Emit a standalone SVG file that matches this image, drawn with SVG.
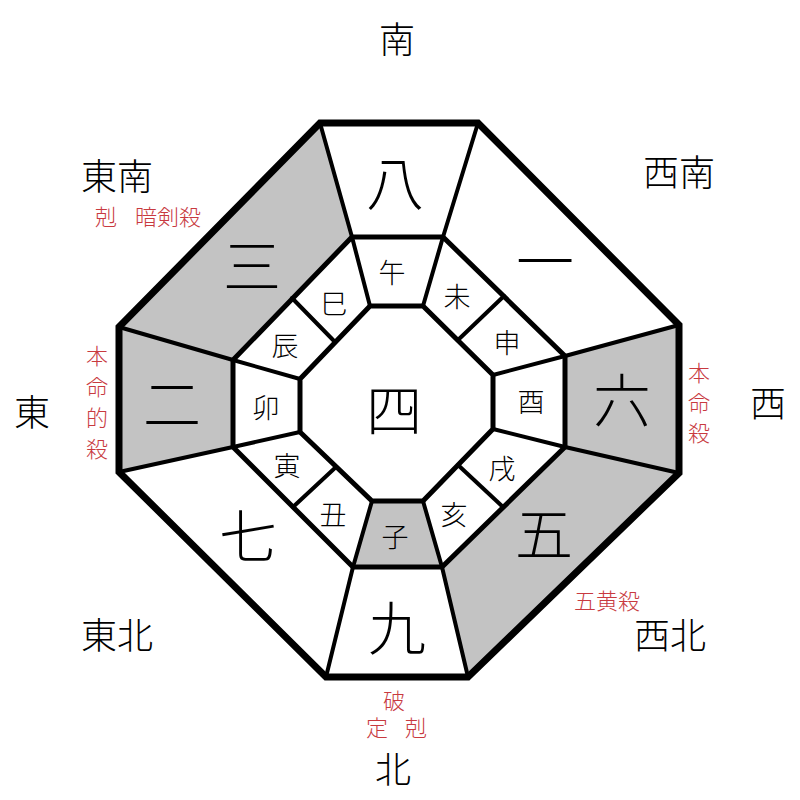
<svg xmlns="http://www.w3.org/2000/svg" width="800" height="800" viewBox="0 0 800 800">
<style>
text{font-family:"Noto Sans CJK JP","Noto Sans CJK SC",sans-serif;text-anchor:middle;dominant-baseline:central;font-weight:300}
.dir{font-size:36px;fill:#000}
.num{font-size:58px;fill:#000}
.mid{font-size:56px;fill:#000}
.zod{font-size:27px;fill:#000}
.red{font-size:22px;fill:#c83a3f}
.gray{fill:#c3c3c3;stroke:none}
.ln{stroke:#000;fill:none;stroke-linejoin:miter;stroke-linecap:round}
</style>
<rect width="800" height="800" fill="#fff"/>
<g id="fills">
<polygon class="gray" points="119,327 320,123 352,237 233,360"/>
<polygon class="gray" points="119,327 233,360 233,447 119,472"/>
<polygon class="gray" points="679,325 679,473 565,447 565,356"/>
<polygon class="gray" points="679,473 468,677 442,567 565,447"/>
<polygon class="gray" points="372,501 423,501 442,567 353,567"/>
</g>
<g id="connectors">
<polygon class="ln" stroke-width="7" points="320,123 478,123 679,325 679,473 468,677 326,677 119,472 119,327"/>
<polygon class="ln" stroke-width="5" points="352,237 443,237 565,356 565,447 442,567 353,567 233,447 233,360"/>
<polygon class="ln" stroke-width="5" points="370,306 423,306 493,375 493,429 423,501 372,501 300,432 300,379"/>
<g class="ln" stroke-width="4">
<line x1="320" y1="123" x2="352" y2="237"/>
<line x1="478" y1="123" x2="443" y2="237"/>
<line x1="679" y1="325" x2="565" y2="356"/>
<line x1="679" y1="473" x2="565" y2="447"/>
<line x1="468" y1="677" x2="442" y2="567"/>
<line x1="326" y1="677" x2="353" y2="567"/>
<line x1="119" y1="472" x2="233" y2="447"/>
<line x1="119" y1="327" x2="233" y2="360"/>
<line x1="370" y1="306" x2="352" y2="237"/>
<line x1="423" y1="306" x2="443" y2="237"/>
<line x1="493" y1="375" x2="565" y2="356"/>
<line x1="493" y1="429" x2="565" y2="447"/>
<line x1="423" y1="501" x2="442" y2="567"/>
<line x1="372" y1="501" x2="353" y2="567"/>
<line x1="300" y1="432" x2="233" y2="447"/>
<line x1="300" y1="379" x2="233" y2="360"/>
<line x1="458" y1="340" x2="504" y2="296"/>
<line x1="458" y1="465" x2="503" y2="507"/>
<line x1="336" y1="467" x2="293" y2="507"/>
<line x1="335" y1="342" x2="292" y2="298"/>
</g>
</g>
<g id="center"><text class="mid" x="394" y="406">四</text></g>
<g id="sectors">
<text class="num" x="395" y="180">八</text>
<text class="num" x="545" y="258">一</text>
<text class="num" x="622" y="397">六</text>
<text class="num" x="544" y="531">五</text>
<text class="num" x="397" y="625">九</text>
<text class="num" x="248" y="533">七</text>
<text class="num" x="172" y="401">二</text>
<text class="num" x="252" y="263">三</text>
</g>
<g id="zodiac">
<text class="zod" x="392" y="271">午</text>
<text class="zod" x="457" y="295">未</text>
<text class="zod" x="507" y="341">申</text>
<text class="zod" x="531" y="400">酉</text>
<text class="zod" x="502" y="467">戌</text>
<text class="zod" x="454" y="513">亥</text>
<text class="zod" x="395" y="535">子</text>
<text class="zod" x="333" y="513">丑</text>
<text class="zod" x="287" y="464">寅</text>
<text class="zod" x="266" y="406">卯</text>
<text class="zod" x="285" y="344">辰</text>
<text class="zod" x="334" y="302">巳</text>
</g>
<g id="directions">
<text class="dir" x="397" y="37">南</text>
<text class="dir" x="117" y="174">東南</text>
<text class="dir" x="679" y="170">西南</text>
<text class="dir" x="32" y="410">東</text>
<text class="dir" x="768" y="401">西</text>
<text class="dir" x="117" y="633">東北</text>
<text class="dir" x="670" y="633">西北</text>
<text class="dir" x="393" y="767">北</text>
</g>
<g id="notes">
<text class="red" x="106" y="215">剋</text>
<text class="red" x="168" y="215">暗剣殺</text>
<text class="red" x="97" y="354">本</text>
<text class="red" x="97" y="385">命</text>
<text class="red" x="97" y="416">的</text>
<text class="red" x="97" y="447">殺</text>
<text class="red" x="699" y="371">本</text>
<text class="red" x="699" y="401">命</text>
<text class="red" x="699" y="431">殺</text>
<text class="red" x="394" y="699">破</text>
<text class="red" x="377" y="726">定</text>
<text class="red" x="416" y="726">剋</text>
<text class="red" x="607" y="599">五黄殺</text>
</g>
</svg>
